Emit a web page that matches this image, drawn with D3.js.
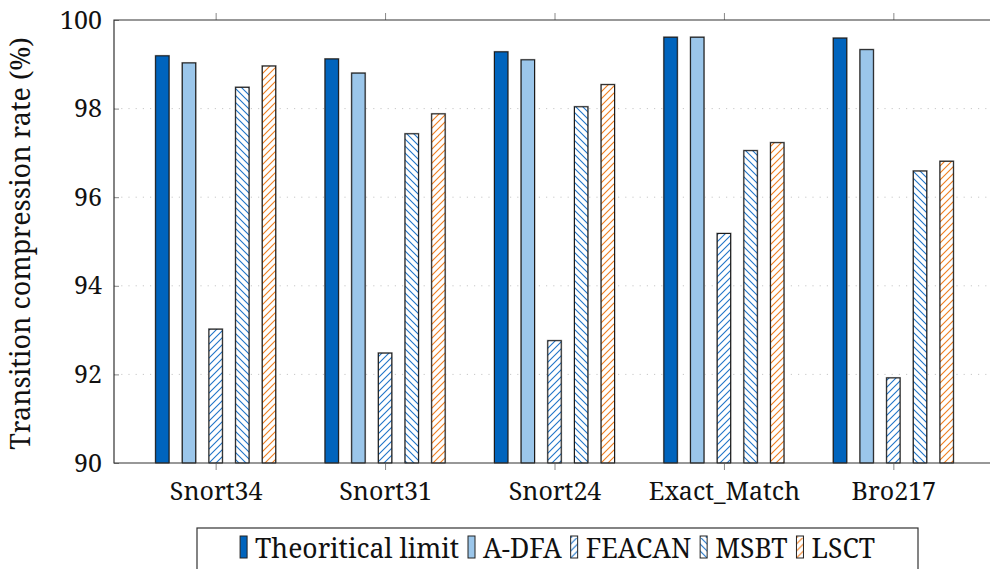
<!DOCTYPE html>
<html>
<head>
<meta charset="utf-8">
<script src="https://cdn.jsdelivr.net/npm/d3@7"></script>
<style>
  body { margin: 0; background: #fff; }
</style>
</head>
<body>
<svg id="chart" width="990" height="569"></svg>
<script>
// data
var categories = ['Snort34', 'Snort31', 'Snort24', 'Exact_Match', 'Bro217'];
var seriesNames = ['Theoritical limit', 'A-DFA', 'FEACAN', 'MSBT', 'LSCT'];
var theoretical = [99.19, 99.12, 99.28, 99.61, 99.59];
var adfa = [99.03, 98.80, 99.10, 99.61, 99.33];
var feacan = [93.02, 92.48, 92.76, 95.18, 91.92];
var msbt = [98.48, 97.43, 98.04, 97.05, 96.59];
var lsct = [98.96, 97.88, 98.54, 97.23, 96.81];
var yTicks = [90, 92, 94, 96, 98, 100];

var seriesValues = [theoretical, adfa, feacan, msbt, lsct];
var fills = ['#0064bd', '#9bc6ea', 'url(#neBlue)', 'url(#nwBlue)', 'url(#neOrange)'];
var FONT = '"Noto Serif", "Liberation Serif", serif';

var svg = d3.select('#chart');
var plotL = 114, plotR = 995, plotT = 20, plotB = 463;

// hatch patterns
var defs = svg.append('defs');
function hatch(id, color, dir) {
  var p = defs.append('pattern')
    .attr('id', id)
    .attr('patternUnits', 'userSpaceOnUse')
    .attr('width', 7).attr('height', 7);
  p.append('rect').attr('width', 7).attr('height', 7).attr('fill', '#fff');
  var d = dir > 0 ? 'M-1,8 L8,-1 M-4,4 L4,-4 M3,11 L11,3' : 'M-1,-1 L8,8 M-4,3 L4,11 M3,-4 L11,4';
  p.append('path').attr('d', d).attr('stroke', color).attr('stroke-width', 1.1);
}
hatch('neBlue', '#1f74c8', 1);
hatch('nwBlue', '#1f74c8', -1);
hatch('neOrange', '#f07d1e', 1);

var x = d3.scalePoint().domain(categories).range([plotL, plotR]).padding(0.6);
var inner = d3.scaleBand().domain(seriesNames).range([-60, 60]).paddingInner(0.5);
var y = d3.scaleLinear().domain([90, 100]).range([plotB, plotT]);

// dotted grid
svg.append('g')
  .selectAll('line')
  .data(yTicks.slice(1, -1))
  .enter()
  .append('line')
  .attr('x1', plotL).attr('x2', plotR)
  .attr('y1', function(d) { return y(d); })
  .attr('y2', function(d) { return y(d); })
  .attr('stroke', '#c8c8c8')
  .attr('stroke-dasharray', '1.2,6');

// bars
var groups = svg.append('g')
  .selectAll('g')
  .data(seriesNames)
  .enter()
  .append('g');

groups.each(function(name, si) {
  var g = d3.select(this);
  var vals = seriesValues[si];
  // soft gray shadow like the original
  g.selectAll('rect.sh')
    .data(vals)
    .enter()
    .append('rect')
    .attr('class', 'sh')
    .attr('x', function(d, i) { return x(categories[i]) + inner(name) - 1; })
    .attr('y', function(d) { return y(d) - 1; })
    .attr('width', inner.bandwidth() + 2)
    .attr('height', function(d) { return y(90) - y(d) + 1; })
    .attr('fill', '#9a9a9a');
  g.selectAll('rect.bar')
    .data(vals)
    .enter()
    .append('rect')
    .attr('class', 'bar')
    .attr('x', function(d, i) { return x(categories[i]) + inner(name); })
    .attr('y', function(d) { return y(d); })
    .attr('width', inner.bandwidth())
    .attr('height', function(d) { return y(90) - y(d); })
    .attr('fill', fills[si])
    .attr('stroke', '#1a1a1a')
    .attr('stroke-width', 1);
});

// axes
var xAxis = svg.append('g')
  .attr('transform', 'translate(0,' + plotB + ')')
  .call(d3.axisBottom(x).tickSize(7).tickPadding(12));
xAxis.select('.domain').remove();
xAxis.selectAll('line').attr('stroke', '#888');
xAxis.selectAll('text')
  .style('font-family', FONT)
  .style('font-size', '25px')
  .attr('fill', '#111');

var xTop = svg.append('g')
  .attr('transform', 'translate(0,' + plotT + ')')
  .call(d3.axisTop(x).tickSize(7).tickFormat(''));
xTop.select('.domain').remove();
xTop.selectAll('line').attr('stroke', '#888');

var yAxis = svg.append('g')
  .attr('transform', 'translate(' + plotL + ',0)')
  .call(d3.axisLeft(y).tickValues(yTicks).tickSize(-5).tickPadding(12));
yAxis.select('.domain').remove();
yAxis.selectAll('line').attr('stroke', '#888');
yAxis.selectAll('text')
  .style('font-family', FONT)
  .style('font-size', '25px')
  .attr('fill', '#111');

// frame
svg.append('path')
  .attr('d', 'M' + plotR + ',' + plotT + 'H' + plotL + 'V' + plotB + 'H' + plotR)
  .attr('fill', 'none')
  .attr('stroke', '#333')
  .attr('stroke-width', 1.2);

// y label
svg.append('text')
  .attr('transform', 'translate(30,' + ((plotT + plotB) / 2 + 2) + ') rotate(-90)')
  .attr('text-anchor', 'middle')
  .style('font-family', FONT)
  .style('font-size', '27px')
  .attr('fill', '#111')
  .text('Transition compression rate (%)');

// legend
var legendBox = svg.append('rect')
  .attr('x', 197).attr('y', 528)
  .attr('width', 918 - 197).attr('height', 60)
  .attr('fill', '#fff')
  .attr('stroke', '#333')
  .attr('stroke-width', 1.2);
var legend = svg.append('g');
var lx = 0;
var items = legend.selectAll('g')
  .data(seriesNames)
  .enter()
  .append('g');
items.each(function(name, i) {
  var g = d3.select(this);
  g.append('rect')
    .attr('x', 0).attr('y', -22)
    .attr('width', 7).attr('height', 22)
    .attr('fill', fills[i])
    .attr('stroke', '#222')
    .attr('stroke-width', 1);
  var t = g.append('text')
    .attr('x', 15).attr('y', 0)
    .style('font-family', FONT)
    .style('font-size', '26.5px')
    .attr('fill', '#111')
    .text(name);
  var w = 15 + t.node().getComputedTextLength();
  g.attr('transform', 'translate(' + lx + ',0)');
  lx += w + 9;
});
var legendW = lx - 9;
var startX = (197 + 918) / 2 - legendW / 2;
legend.attr('transform', 'translate(' + startX + ',558)');
</script>
</body>
</html>
